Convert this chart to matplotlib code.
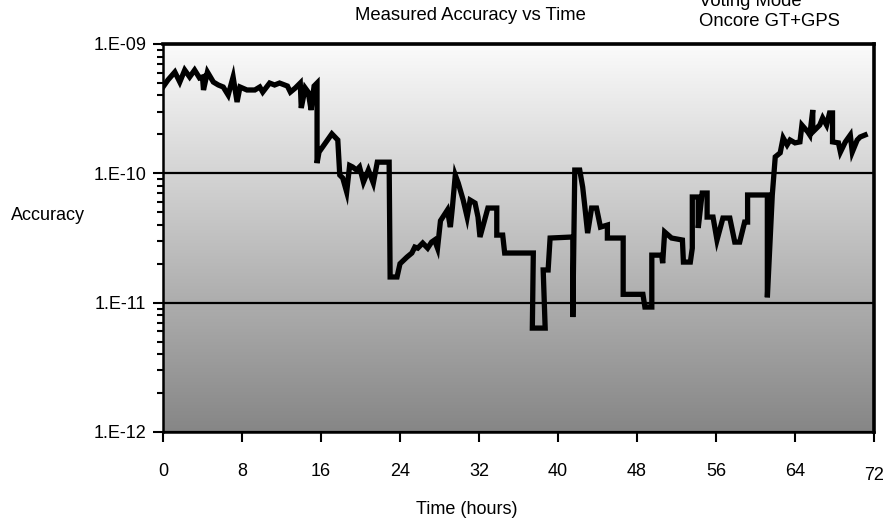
import numpy as np
import matplotlib
matplotlib.use('Agg')
import matplotlib.pyplot as plt
import matplotlib.transforms as mtransforms
from matplotlib.ticker import LogLocator, NullFormatter, FixedLocator

plt.rcParams['font.family'] = ['Liberation Sans', 'DejaVu Sans']

# measured accuracy trace (hours, fractional accuracy)
hours = [
    0.0, 0.5, 1.2, 1.7, 2.2, 2.7, 3.2, 3.7, 4.0, 4.1, 4.5, 5.1, 5.6, 6.1, 6.6,
    7.1, 7.5, 7.8, 8.5, 9.3, 9.8, 10.1, 10.8, 11.3, 11.8, 12.6, 12.9, 13.4,
    13.9, 14.0, 14.4, 14.7, 15.0, 15.3, 15.6, 15.6, 15.8, 17.1, 17.7, 17.9,
    18.2, 18.6, 18.9, 19.2, 19.6, 19.9, 20.3, 20.8, 21.3, 21.7, 22.9, 23.0,
    23.7, 24.0, 24.7, 25.2, 25.5, 25.8, 26.3, 26.8, 27.2, 27.5, 27.8, 28.1,
    28.8, 29.1, 29.3, 29.6, 29.9, 30.4, 30.8, 31.1, 31.6, 31.9, 32.1, 32.9,
    33.8, 33.8, 34.4, 34.6, 37.5, 37.4, 38.7, 38.5, 39.0, 39.2, 41.5, 41.5,
    41.7, 42.2, 42.5, 42.7, 43.0, 43.4, 43.9, 44.3, 45.0, 45.0, 46.6, 46.6,
    48.6, 48.8, 49.5, 49.5, 50.5, 50.6, 50.8, 51.5, 52.6, 52.7, 53.4, 53.6,
    53.6, 54.2, 54.2, 54.6, 55.1, 55.1, 55.7, 56.1, 56.7, 57.4, 57.9, 58.4,
    58.9, 59.2, 59.2, 61.2, 61.2, 61.7, 62.0, 62.5, 62.8, 63.2, 63.5, 64.0,
    64.5, 64.7, 65.3, 65.5, 65.8, 65.8, 66.5, 66.8, 67.2, 67.5, 67.8, 67.8,
    68.4, 68.6, 69.1, 69.6, 69.8, 70.3, 70.6, 71.1,
]
accuracy = [
    4.65e-10, 5.27e-10, 6.07e-10, 5.08e-10, 6.29e-10, 5.56e-10, 6.29e-10,
    5.46e-10, 5.56e-10, 4.41e-10, 6.07e-10, 5.08e-10, 4.82e-10, 4.65e-10,
    4.03e-10, 5.56e-10, 3.56e-10, 4.65e-10, 4.41e-10, 4.41e-10, 4.65e-10,
    4.25e-10, 4.99e-10, 4.82e-10, 4.99e-10, 4.73e-10, 4.25e-10, 4.57e-10,
    4.99e-10, 3.20e-10, 4.57e-10, 4.25e-10, 3.09e-10, 4.73e-10, 4.99e-10,
    1.20e-10, 1.46e-10, 2.02e-10, 1.81e-10, 0.97e-10, 0.92e-10, 0.717e-10,
    1.15e-10, 1.12e-10, 1.06e-10, 1.12e-10, 0.856e-10, 1.06e-10, 0.841e-10,
    1.22e-10, 1.22e-10, 1.58e-11, 1.58e-11, 2.00e-11, 2.25e-11, 2.42e-11,
    2.69e-11, 2.64e-11, 2.89e-11, 2.64e-11, 2.94e-11, 3.05e-11, 2.64e-11,
    4.30e-11, 5.20e-11, 3.84e-11, 5.40e-11, 9.70e-11, 8.40e-11, 6.21e-11,
    4.59e-11, 6.21e-11, 5.89e-11, 4.59e-11, 3.22e-11, 5.39e-11, 5.39e-11,
    3.33e-11, 3.33e-11, 2.42e-11, 2.42e-11, 6.36e-12, 6.36e-12, 1.79e-11,
    1.79e-11, 3.16e-11, 3.22e-11, 7.74e-12, 1.06e-10, 1.06e-10, 7.83e-11,
    5.69e-11, 3.45e-11, 5.39e-11, 5.39e-11, 3.84e-11, 3.98e-11, 3.16e-11,
    3.16e-11, 1.16e-11, 1.16e-11, 9.25e-12, 9.25e-12, 2.33e-11, 2.33e-11,
    2.02e-11, 3.52e-11, 3.16e-11, 3.05e-11, 2.06e-11, 2.06e-11, 2.64e-11,
    6.56e-11, 6.56e-11, 3.78e-11, 7.04e-11, 7.04e-11, 4.59e-11, 4.59e-11,
    3.05e-11, 4.51e-11, 4.51e-11, 2.94e-11, 2.94e-11, 4.20e-11, 4.20e-11,
    6.80e-11, 6.80e-11, 1.10e-11, 6.80e-11, 1.34e-10, 1.44e-10, 1.88e-10,
    1.66e-10, 1.81e-10, 1.72e-10, 1.75e-10, 2.36e-10, 2.09e-10, 1.98e-10,
    3.09e-10, 2.09e-10, 2.36e-10, 2.68e-10, 2.36e-10, 2.93e-10, 2.93e-10,
    1.75e-10, 1.72e-10, 1.46e-10, 1.75e-10, 1.98e-10, 1.46e-10, 1.81e-10,
    1.91e-10, 1.98e-10,
]

xticks = [0, 8, 16, 24, 32, 40, 48, 56, 64, 72]
yticks = [1e-12, 1e-11, 1e-10, 1e-9]
ytick_labels = ["1.E-12", "1.E-11", "1.E-10", "1.E-09"]

fig = plt.figure(figsize=(8.88, 5.21), dpi=100)
ax = fig.add_axes([163 / 888, 1 - 432 / 521, (874 - 163) / 888, (432 - 44) / 521])

# grey gradient backdrop (light at top, dark at bottom)
grad = np.linspace(0, 1, 256).reshape(-1, 1)
cmap = matplotlib.colors.LinearSegmentedColormap.from_list("bg", ["#fbfbfb", "#868686"])
ax.imshow(grad, extent=[0, 1, 0, 1], transform=ax.transAxes, aspect='auto',
          cmap=cmap, zorder=0, interpolation='bilinear')

ax.set_yscale('log')
ax.set_xlim(0, 72)
ax.set_ylim(1e-12, 1e-9)

ax.yaxis.grid(True, which='major', color='black', linewidth=1.6, zorder=1)
ax.set_axisbelow(False)

ax.plot(hours, accuracy, color='black', linewidth=3.8, solid_joinstyle='miter', zorder=3)

ax.xaxis.set_major_locator(FixedLocator(xticks))
ax.set_xticklabels([str(t) for t in xticks])
ax.yaxis.set_major_locator(FixedLocator(yticks))
ax.set_yticklabels(ytick_labels)
ax.yaxis.set_minor_locator(LogLocator(base=10, subs=np.arange(2, 10)))
ax.yaxis.set_minor_formatter(NullFormatter())

ax.tick_params(axis='x', which='major', direction='out', length=7.5, width=1.5,
               pad=15, labelsize=13)
ax.tick_params(axis='y', which='major', direction='out', length=7, width=1.5,
               pad=5, labelsize=13)
ax.tick_params(axis='y', which='minor', direction='out', length=4.5, width=1.5)

# last x label sits slightly lower in the original
last = ax.get_xticklabels()[-1]
last.set_transform(last.get_transform() + mtransforms.ScaledTranslation(0, -4 / 100, fig.dpi_scale_trans))

for side in ['left', 'bottom']:
    ax.spines[side].set_linewidth(1.8)
for side in ['top', 'right']:
    ax.spines[side].set_linewidth(2.6)

fig.text(470 / 888, 1 - 15 / 521, "Measured Accuracy vs Time", ha='center', va='center', fontsize=13.3)
fig.text(699 / 888, 1 - 1 / 521, "Voting Mode", ha='left', va='center', fontsize=13.3)
fig.text(699 / 888, 1 - 22 / 521, "Oncore GT+GPS", ha='left', va='center', fontsize=13.3)
fig.text(48 / 888, 1 - 215 / 521, "Accuracy", ha='center', va='center', fontsize=13)
fig.text(467 / 888, 1 - 509 / 521, "Time (hours)", ha='center', va='center', fontsize=13)

fig.savefig("out.png", dpi=100)
